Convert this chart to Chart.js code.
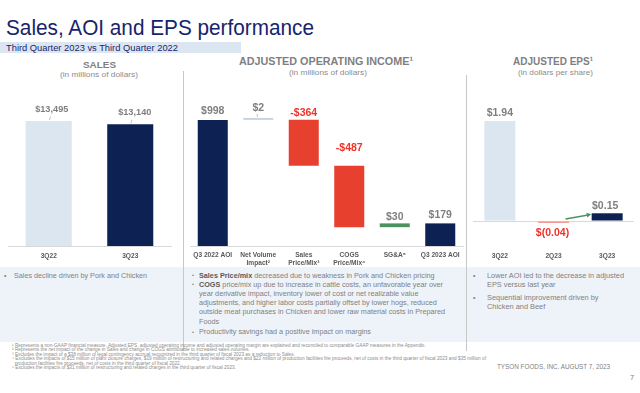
<!DOCTYPE html>
<html><head><meta charset="utf-8">
<script src="https://cdn.jsdelivr.net/npm/chart.js@4.4.0/dist/chart.umd.min.js"></script>
<style>
html,body{margin:0;padding:0;background:#fff;}
#root{position:relative;width:640px;height:393px;overflow:hidden;font-family:"Liberation Sans",Arial,sans-serif;}
.t{position:absolute;white-space:nowrap;line-height:1;transform-origin:left top;}
.box{position:absolute;}
canvas{position:absolute;}
</style></head><body><div id="root">
<div class="box" style="left:0;top:42px;width:241px;height:11px;background:#dce6f2"></div>
<div class="box" style="left:0;top:267px;width:640px;height:75px;background:#eef3f9"></div>
<div class="box" style="left:183px;top:71px;width:1px;height:280px;background:#c8c8c8"></div>
<div class="box" style="left:466px;top:75px;width:1px;height:276px;background:#c8c8c8"></div>
<canvas id="sales" width="184" height="190" style="left:0;top:80px"></canvas>
<canvas id="aoi" width="283" height="190" style="left:184px;top:80px"></canvas>
<canvas id="eps" width="173" height="190" style="left:467px;top:80px"></canvas>
</div>
<script>
// ---------- data ----------
const salesCategories = ['3Q22', '3Q23'];
const salesValues = [13495, 13140];

const aoiCategories = [['Q3 2022 AOI'], ['Net Volume', 'Impact²'], ['Sales', 'Price/Mix³'], ['COGS', 'Price/Mix⁴'], ['SG&A⁵'], ['Q3 2023 AOI']];
const aoiValues = [998, 2, -364, -487, 30, 179];
const aoiKinds = ['total', 'delta', 'delta', 'delta', 'delta', 'total'];

const epsCategories = ['3Q22', '2Q23', '3Q23'];
const epsValues = [1.94, -0.04, 0.15];

// ---------- styles ----------
const NAVY = '#0d2252', LIGHT = '#dce6f1', RED = '#e8402f', GREEN = '#4e9160';
const LABEL_GRAY = '#7f7f7f', LABEL_RED = '#f0322a', TICK = '#595959';
const FONT = '"Liberation Sans", Arial, sans-serif';

const root = document.getElementById('root');
function addText(s) {
  const el = document.createElement('div');
  el.className = 't';
  el.innerHTML = s.html;
  el.style.fontSize = s.size + 'px';
  el.style.fontWeight = s.bold ? 'bold' : 'normal';
  el.style.color = s.color || '#7f7f7f';
  root.appendChild(el);
  const w0 = el.getBoundingClientRect().width;
  const sx = s.sx || (s.w ? s.w / w0 : 1);
  const sy = s.sy || 1;
  const w = w0 * sx;
  const left = s.align === 'center' ? s.x - w / 2 : s.x;
  el.style.left = left + 'px';
  el.style.top = (s.base - 0.85 * s.size * sy) + 'px';
  el.style.transform = 'scale(' + sx + ',' + sy + ')';
  return {el, w0, sx};
}
function measure(html, size, bold) {
  const el = document.createElement('div');
  el.className = 't';
  el.innerHTML = html; el.style.fontSize = size + 'px'; el.style.fontWeight = bold ? 'bold' : 'normal';
  root.appendChild(el);
  const w = el.getBoundingClientRect().width; root.removeChild(el); return w;
}
function addBlock(lines, x, bases, size, anchor, anchorW, color, sy) {
  const sx = anchorW / measure(lines[anchor], size, false);
  lines.forEach((l, i) => addText({html: l, x, base: bases[i], size, sx, sy, color}));
}

const NAVYT = '#17246b';
addText({html: 'Sales, AOI and EPS performance', x: 6, base: 36, size: 22, w: 308, color: NAVYT});
addText({html: 'Third Quarter 2023 vs Third Quarter 2022', x: 6, base: 51, size: 8.3, w: 172, color: NAVYT});
addText({html: 'SALES', x: 99, base: 68.5, size: 9.8, bold: true, w: 33, align: 'center', color: '#7f7f7f'});
addText({html: '(in millions of dollars)', x: 99, base: 77.5, size: 8, w: 78, align: 'center', color: '#8c8c8c'});
addText({html: 'ADJUSTED OPERATING INCOME¹', x: 326, base: 66, size: 10.3, bold: true, w: 174, align: 'center', color: '#7f7f7f'});
addText({html: '(in millions of dollars)', x: 328, base: 76, size: 8, w: 78, align: 'center', color: '#8c8c8c'});
addText({html: 'ADJUSTED EPS¹', x: 553, base: 66, size: 10.3, bold: true, w: 80, align: 'center', color: '#7f7f7f'});
addText({html: '(in dollars per share)', x: 555, base: 76, size: 8, w: 75, align: 'center', color: '#8c8c8c'});

// bullets
const BG = '#808080', BB = 'color:#595959;font-weight:bold';
addText({html: '•', x: 4, base: 278, size: 7, color: BG});
addText({html: 'Sales decline driven by Pork and Chicken', x: 14, base: 278, size: 7.6, w: 133, color: BG});

const midLines = [
  '<span style="' + BB + '">Sales Price/mix</span> decreased due to weakness in Pork and Chicken pricing',
  '<span style="' + BB + '">COGS</span> price/mix up due to increase in cattle costs, an unfavorable year over',
  'year derivative impact, inventory lower of cost or net realizable value',
  'adjustments, and higher labor costs partially offset by lower hogs, reduced',
  'outside meat purchases in Chicken and lower raw material costs in Prepared',
  'Foods',
  'Productivity savings had a positive impact on margins'
];
const midBases = [278, 287.3, 296.3, 305.3, 314.7, 324, 334.7];
addBlock(midLines, 199, midBases, 7.6, 1, 244, BG);
[278, 287.3, 334.7].forEach(b => addText({html: '•', x: 192, base: b - 0.5, size: 5.5, color: BG}));

const rightLines = ['Lower AOI led to the decrease in adjusted', 'EPS versus last year', 'Sequential improvement driven by', 'Chicken and Beef'];
addBlock(rightLines, 487, [278, 287, 300, 309], 7.6, 0, 137, BG);
[278, 300].forEach(b => addText({html: '•', x: 473, base: b, size: 7, color: BG}));

// footnotes
const notes = [
  '¹ Represents a non-GAAP financial measure. Adjusted EPS, adjusted operating income and adjusted operating margin are explained and reconciled to comparable GAAP measures in the Appendix.',
  '² Represents the net impact of the change in Sales and change in COGS attributable to increased sales volumes.',
  '³ Excludes the impact of a $38 million of legal contingency accrual recognized in the third quarter of fiscal 2023 as a reduction to Sales.',
  '⁴ Excludes the impacts of $15 million of plant closure charges, $19 million of restructuring and related charges and $22 million of production facilities fire proceeds, net of costs in the third quarter of fiscal 2023 and $35 million of',
  '&nbsp;&nbsp;production facilities fire proceeds, net of costs in the third quarter of fiscal 2022.',
  '⁵ Excludes the impacts of $31 million of restructuring and related charges in the third quarter of fiscal 2023.'
];
addBlock(notes, 12, [346.5, 351, 355.5, 360, 364.5, 369], 9, 3, 474, '#8c8c8c', 0.5);

addText({html: 'TYSON FOODS, INC. AUGUST 7, 2023', x: 497, base: 369, size: 7.5, w: 113, color: '#7f7f7f'});
addText({html: '7', x: 630, base: 380, size: 7.5, color: '#7f7f7f'});

// ---------- charts ----------
function labelPlugin(cfg) {
  return {
    id: 'vlabels',
    afterDatasetsDraw(chart) {
      const ctx = chart.ctx;
      const meta = chart.getDatasetMeta(0);
      ctx.save();
      ctx.textAlign = 'center';
      ctx.textBaseline = 'middle';
      meta.data.forEach((bar, i) => {
        const p = bar.getProps(['x', 'y', 'base'], true);
        const top = Math.min(p.y, p.base), bottom = Math.max(p.y, p.base);
        const below = cfg.below && cfg.below[i];
        const ly = below ? bottom + cfg.dy[i] : top - cfg.dy[i];
        const lx = p.x + (cfg.dx ? cfg.dx[i] : 0);
        ctx.font = cfg.font;
        ctx.fillStyle = cfg.colors[i];
        ctx.fillText(cfg.texts[i], lx, ly);
        if (cfg.leaders && cfg.leaders[i]) {
          const L = cfg.leaders[i];
          ctx.strokeStyle = '#c0c0c0'; ctx.lineWidth = 1;
          ctx.beginPath();
          ctx.moveTo(p.x + L[0], top - L[1]);
          ctx.lineTo(p.x + L[2], top - L[3]);
          ctx.stroke();
        }
      });
      if (cfg.after) cfg.after(chart, ctx);
      ctx.restore();
    }
  };
}
function xAxis(extra) {
  return Object.assign({
    grid: {display: false, drawTicks: false},
    border: {display: true, color: '#d9d9d9'},
    ticks: {font: {family: FONT, weight: 'bold', size: 6.6}, color: TICK, padding: 6, maxRotation: 0, autoSkip: false},
    afterFit(s) { s.height = 24; }
  }, extra || {});
}
const baseOpts = {
  responsive: false, animation: false,
  plugins: {legend: {display: false}, tooltip: {enabled: false}},
};

// Sales
new Chart(document.getElementById('sales'), {
  type: 'bar',
  data: {labels: salesCategories, datasets: [{data: salesValues, backgroundColor: [LIGHT, NAVY], borderWidth: 0, barPercentage: 0.565, categoryPercentage: 1}]},
  options: Object.assign({}, baseOpts, {
    layout: {padding: {left: 8, right: 13, top: 0, bottom: 0}},
    scales: {x: xAxis(), y: {display: false, min: 0, max: 17921}}
  }),
  plugins: [labelPlugin({
    texts: salesValues.map(v => '$' + v.toLocaleString('en-US')),
    colors: [LABEL_GRAY, LABEL_GRAY], dx: [3, 4.5], dy: [12, 12],
    font: 'bold 9.2px ' + FONT,
    leaders: [[2, 4.5, 0.5, 1], [2, 4.5, 0.5, 1]]
  })]
});

// AOI waterfall (ranges built from the values)
let running = 0;
const aoiRanges = aoiValues.map((v, i) => {
  if (aoiKinds[i] === 'total') { running = v; return [0, v]; }
  const r = [running, running + v]; running += v; return r;
});
const aoiColors = aoiValues.map((v, i) => aoiKinds[i] === 'total' ? NAVY : (i === 1 ? '#c9d5dd' : (v < 0 ? RED : GREEN)));
new Chart(document.getElementById('aoi'), {
  type: 'bar',
  data: {labels: aoiCategories, datasets: [{data: aoiRanges, backgroundColor: aoiColors, borderWidth: 0, barPercentage: 0.66, categoryPercentage: 1, minBarLength: 2}]},
  options: Object.assign({}, baseOpts, {
    layout: {padding: {left: 6, right: 4, top: 0, bottom: 0}},
    scales: {x: xAxis({ticks: {font: {family: FONT, weight: 'bold', size: 6.6}, color: TICK, padding: 5, maxRotation: 0, autoSkip: false}}), y: {display: false, min: 0, max: 1314}}
  }),
  plugins: [labelPlugin({
    texts: aoiValues.map(v => (v < 0 ? '-$' : '$') + Math.abs(v)),
    colors: aoiValues.map(v => v < 0 ? LABEL_RED : LABEL_GRAY),
    dy: [9, 10, 7, 18, 6, 8],
    font: 'bold 10.5px ' + FONT,
    leaders: [null, [-1, 4, -1, 1], null, null, null, null]
  })]
});

// EPS
new Chart(document.getElementById('eps'), {
  type: 'bar',
  data: {labels: epsCategories, datasets: [{data: epsValues, backgroundColor: [LIGHT, '#f29a93', NAVY], borderWidth: 0, barPercentage: 0.578, categoryPercentage: 1}]},
  options: Object.assign({}, baseOpts, {
    layout: {padding: {left: 6, right: 6, top: 0, bottom: 0}},
    scales: {
      x: xAxis({border: {display: false}}),
      y: {min: -0.4854, max: 2.738, border: {display: false},
          grid: {color: '#d9d9d9', drawTicks: false},
          ticks: {display: false},
          afterBuildTicks(s) { s.ticks = [{value: 0}]; },
          afterFit(s) { s.width = 0; }}
    }
  }),
  plugins: [labelPlugin({
    texts: epsValues.map(v => v < 0 ? '$(' + Math.abs(v).toFixed(2) + ')' : '$' + v.toFixed(2)),
    colors: epsValues.map(v => v < 0 ? LABEL_RED : LABEL_GRAY),
    below: epsValues.map(v => v < 0),
    dx: [0, -1, -2], dy: [8, 10, 7],
    font: 'bold 10.5px ' + FONT,
    after(chart, ctx) {
      const xs = chart.scales.x, ys = chart.scales.y;
      const x1 = xs.getPixelForValue(1) + 12, y1 = ys.getPixelForValue(0) - 2;
      const x2 = xs.getPixelForValue(2) - 16, y2 = ys.getPixelForValue(epsValues[2]) + 1;
      ctx.strokeStyle = GREEN; ctx.fillStyle = GREEN; ctx.lineWidth = 1.5;
      ctx.beginPath(); ctx.moveTo(x1, y1); ctx.lineTo(x2 - 3, y2 + 0.8); ctx.stroke();
      const a = Math.atan2(y2 - y1, x2 - x1), h = 5;
      ctx.beginPath(); ctx.moveTo(x2, y2);
      ctx.lineTo(x2 - h * Math.cos(a - 0.5), y2 - h * Math.sin(a - 0.5));
      ctx.lineTo(x2 - h * Math.cos(a + 0.5), y2 - h * Math.sin(a + 0.5));
      ctx.closePath(); ctx.fill();
    }
  })]
});
</script></body></html>
